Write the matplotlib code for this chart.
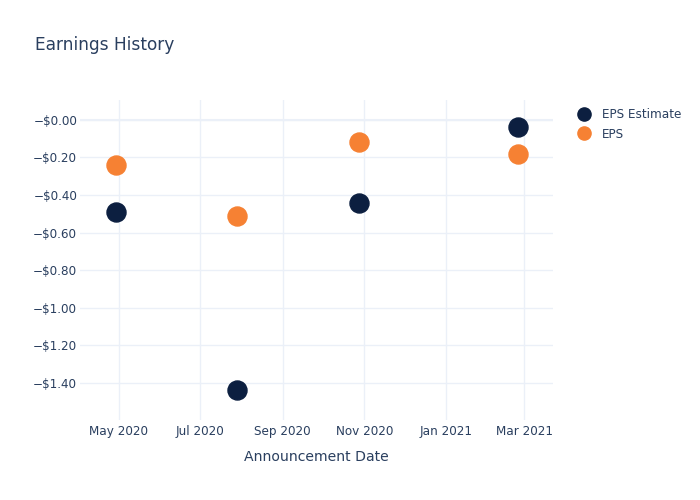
import matplotlib
matplotlib.use("Agg")
import matplotlib.pyplot as plt
from matplotlib.lines import Line2D
import numpy as np

dates = ["2020-04-29", "2020-07-29", "2020-10-28", "2021-02-24"]
eps_estimate = [-0.49, -1.44, -0.44, -0.04]
eps_actual = [-0.24, -0.51, -0.12, -0.18]
y_ticks = [0.0, -0.2, -0.4, -0.6, -0.8, -1.0, -1.2, -1.4]
y_tick_labels = ["\u2212$0.00", "\u2212$0.20", "\u2212$0.40", "\u2212$0.60",
                 "\u2212$0.80", "\u2212$1.00", "\u2212$1.20", "\u2212$1.40"]
x_ticks = ["2020-05-01", "2020-07-01", "2020-09-01", "2020-11-01", "2021-01-01", "2021-03-01"]
x_tick_labels = ["May 2020", "Jul 2020", "Sep 2020", "Nov 2020", "Jan 2021", "Mar 2021"]
series_names = ["EPS Estimate", "EPS"]
colors = ["#0c1f40", "#f68133"]
text_color = "#2a3f5f"
grid_color = "#ebf0f8"

plt.rcParams['font.family'] = ['DejaVu Sans']
fig = plt.figure(figsize=(7, 5), dpi=100)
ax = fig.add_axes([80/700, 80/500, 473/700, 320/500])

d = [np.datetime64(x) for x in dates]
ax.plot(d, eps_estimate, 'o', ms=13.7, color=colors[0], mec=colors[0], zorder=3, clip_on=False)
ax.plot(d, eps_actual, 'o', ms=13.7, color=colors[1], mec=colors[1], zorder=3, clip_on=False)

ax.set_xlim(np.datetime64("2020-04-02"), np.datetime64("2021-03-22T12"))
ax.set_ylim(-1.597, 0.106)

ax.set_yticks(y_ticks)
ax.set_yticklabels(y_tick_labels)
ax.set_xticks([np.datetime64(x) for x in x_ticks])
ax.set_xticklabels(x_tick_labels)

for s in ax.spines.values():
    s.set_visible(False)
ax.tick_params(axis='both', length=0, labelsize=8.64, colors=text_color)
ax.tick_params(axis='y', pad=2)
ax.tick_params(axis='x', pad=3.5)
ax.grid(True, color=grid_color, lw=1)
ax.axhline(0, color=grid_color, lw=1.5, zorder=1)
ax.set_axisbelow(True)

ax.set_xlabel("Announcement Date", fontsize=10.1, color=text_color, labelpad=8.5)

fig.text(35/700, 1 - 45/500, "Earnings History", fontsize=12.24, color=text_color,
         ha='left', va='center')

handles = [Line2D([], [], ls='none', marker='o', ms=9.5, color=c) for c in colors]
leg = fig.legend(handles, series_names, loc='upper left', bbox_to_anchor=(577/700, 1 - 108/500),
                 frameon=False, fontsize=8.64, handlelength=1.2, handletextpad=0.9,
                 labelspacing=0.55, borderaxespad=0, borderpad=0)
for t in leg.get_texts():
    t.set_color(text_color)

fig.savefig("out.png", dpi=100)
